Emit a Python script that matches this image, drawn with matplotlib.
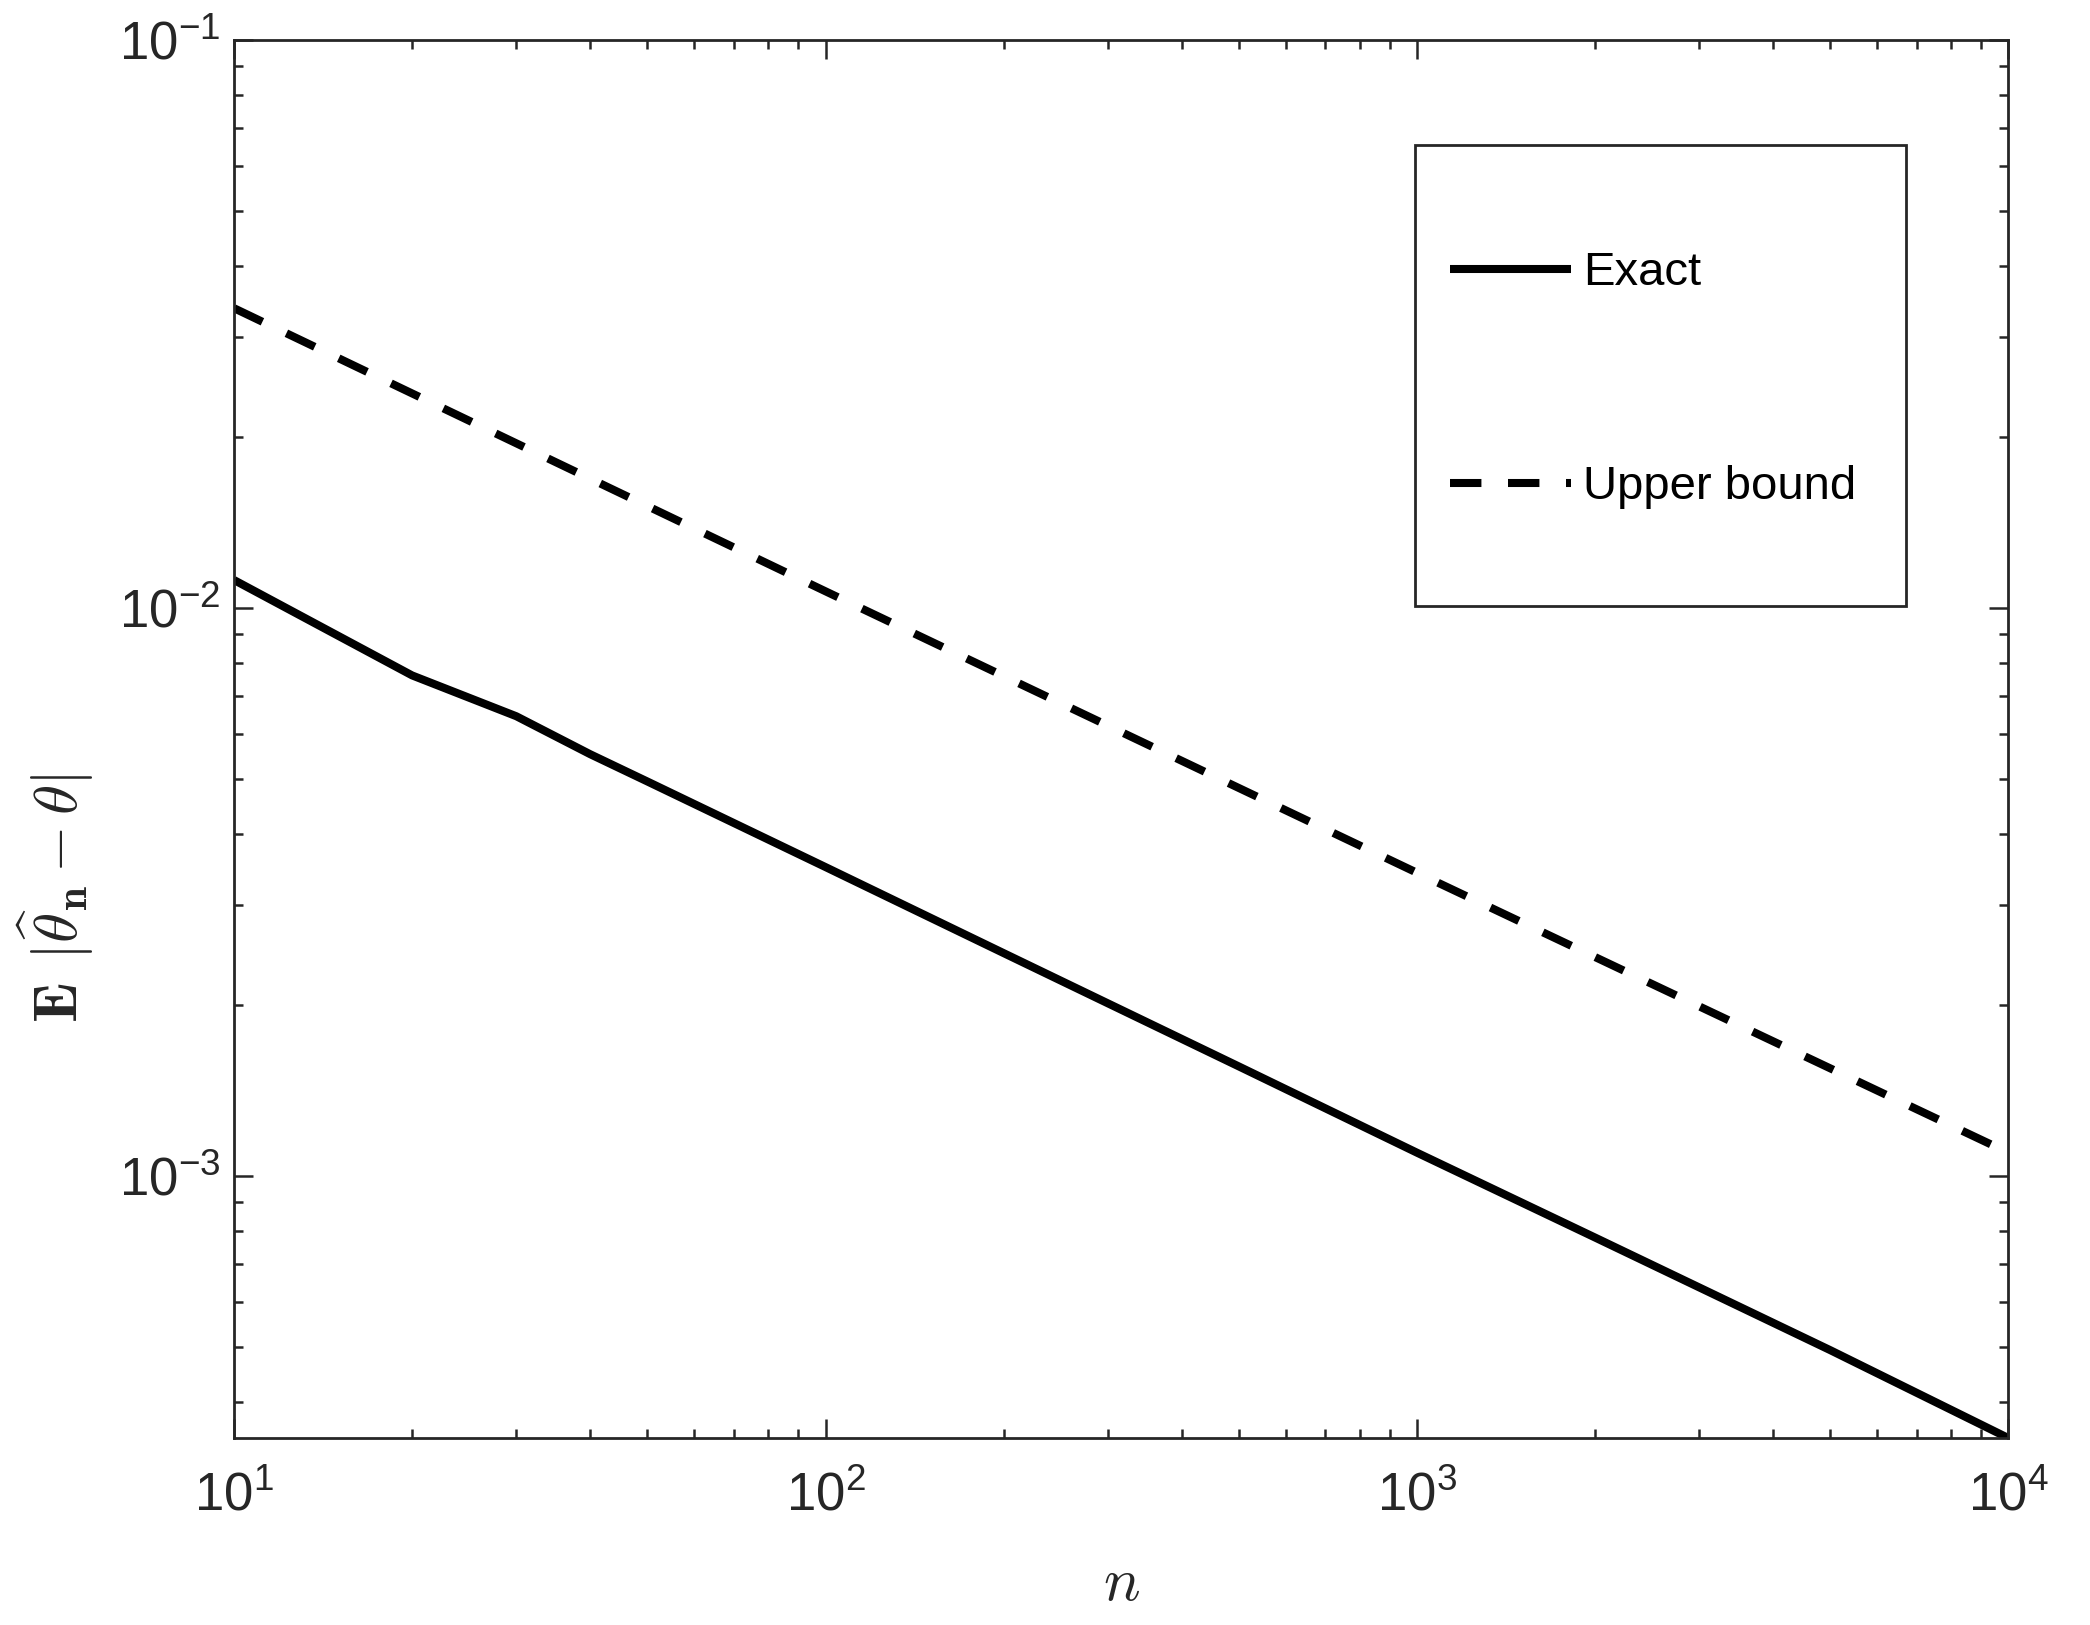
import matplotlib
matplotlib.use('Agg')
import matplotlib.pyplot as plt
import numpy as np
from matplotlib.patches import Rectangle
from matplotlib.ticker import FuncFormatter, NullFormatter, LogLocator

plt.rcParams['font.family'] = ['Liberation Sans', 'DejaVu Sans']
plt.rcParams['mathtext.fontset'] = 'custom'
plt.rcParams['mathtext.rm'] = 'Liberation Sans'
plt.rcParams['mathtext.it'] = 'Liberation Sans:italic'
plt.rcParams['mathtext.bf'] = 'Liberation Sans:bold'

# values
n_exact = [10, 20, 30, 40, 50, 100, 200, 500, 1000, 2000, 5000, 10000]
exact = [1.12e-2, 7.61e-3, 6.45e-3, 5.53e-3, 4.95e-3, 3.50e-3, 2.47e-3,
         1.56e-3, 1.10e-3, 7.8e-4, 4.94e-4, 3.46e-4]
n_bound = [10, 100, 1000, 10000]
bound = [3.37e-2, 1.07e-2, 3.42e-3, 1.10e-3]

axcol = '#262626'
lw = 2.9

fig = plt.figure(figsize=(10.45, 8.125), dpi=200)
ax = fig.add_axes([0.112, 0.115, 0.849, 0.8605])

ax.plot(n_exact, exact, color='black', lw=lw, solid_capstyle='butt', label='Exact')
ax.plot(n_bound, bound, color='black', lw=lw, dashes=(3.9, 3.3), label='Upper bound')

ax.set_xscale('log')
ax.set_yscale('log')
ax.set_xlim(10, 1e4)
ax.set_ylim(3.46e-4, 1e-1)

fmt = FuncFormatter(lambda v, _: r'$10^{%d}$' % int(round(np.log10(v))))
for axis in (ax.xaxis, ax.yaxis):
    axis.set_major_locator(LogLocator(base=10, numticks=10))
    axis.set_minor_locator(LogLocator(base=10, subs=np.arange(2, 10), numticks=20))
    axis.set_major_formatter(fmt)
    axis.set_minor_formatter(NullFormatter())

ax.tick_params(which='both', direction='in', top=True, right=True, color=axcol,
               labelcolor=axcol, labelsize=19)
ax.tick_params(which='major', length=6.7, width=0.9)
ax.tick_params(which='minor', length=3.4, width=0.9)
ax.tick_params(axis='x', which='major', pad=12)
ax.tick_params(axis='y', which='major', pad=5)
for s in ax.spines.values():
    s.set_color(axcol)
    s.set_linewidth(1.0)

ax.set_xlabel(r'$n$', fontsize=22, math_fontfamily='cm', color=axcol)
ax.xaxis.label.set_va('baseline')
ax.xaxis.set_label_coords(0.5, -0.116)
ax.set_ylabel(r'$\mathbf{E}\;\,|\widehat{\theta}_{\mathbf{n}} - \theta|$', fontsize=22,
              math_fontfamily='cm', color=axcol)
ax.yaxis.set_label_coords(-0.078, 0.386)

# legend frame drawn separately (tall box with roomy padding)
ax.add_patch(Rectangle((0.6655, 0.595), 0.277, 0.330, transform=ax.transAxes,
                       fill=False, edgecolor=axcol, lw=1.0, zorder=5))
leg = ax.legend(loc='center left', bbox_to_anchor=(0.6853, 0.7564), frameon=False,
                fontsize=17, handlelength=2.56, handletextpad=0.25, labelspacing=3.6,
                borderpad=0, borderaxespad=0)

fig.savefig('out.png', dpi=200)
